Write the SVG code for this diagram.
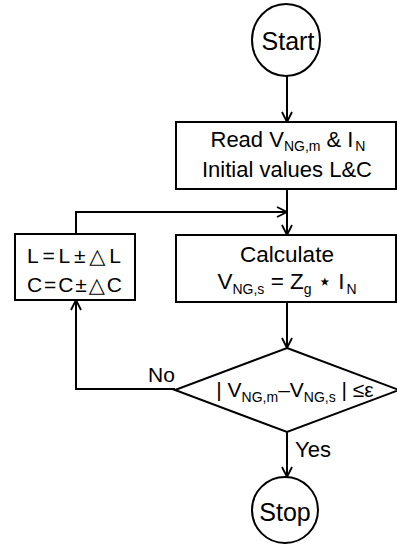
<svg xmlns="http://www.w3.org/2000/svg" width="397" height="544" viewBox="0 0 397 544">
  <style>
    .shape { fill: #ffffff; stroke: #000000; stroke-width: 2; }
    .wire { fill: none; stroke: #000000; stroke-width: 2; }
    .label { font-family: "Liberation Sans", Arial, "DejaVu Sans", sans-serif; fill: #000000; }
    .sub { font-size: 14px; }
  </style>
  <defs>
    <marker id="arrow" viewBox="0 0 12 12" refX="11" refY="6" markerWidth="12" markerHeight="12" markerUnits="userSpaceOnUse" orient="auto">
      <path d="M1,1 L11,6 L1,11" fill="none" stroke="#000000" stroke-width="1.8"/>
    </marker>
  </defs>

  <!-- connectors -->
  <g id="connectors">
    <line class="wire" x1="287" y1="76" x2="287" y2="122" marker-end="url(#arrow)"/>
    <line class="wire" x1="287" y1="189" x2="287" y2="235" marker-end="url(#arrow)"/>
    <polyline class="wire" points="76,234 76,212 287,212" marker-end="url(#arrow)"/>
    <line class="wire" x1="287" y1="302" x2="287" y2="348" marker-end="url(#arrow)"/>
    <polyline class="wire" points="175,389 76,389 76,300" marker-end="url(#arrow)"/>
    <line class="wire" x1="287" y1="432" x2="287" y2="477" marker-end="url(#arrow)"/>
    <text class="label" x="148" y="382" font-size="21">No</text>
    <text class="label" x="295" y="457" font-size="22">Yes</text>
  </g>

  <g id="start">
    <ellipse class="shape" cx="286" cy="40" rx="34" ry="36"/>
    <text class="label" x="288" y="50" font-size="25" text-anchor="middle">Start</text>
  </g>

  <g id="read">
    <rect class="shape" x="176" y="122" width="220" height="67"/>
    <text class="label" x="288" y="147" font-size="22" text-anchor="middle">Read V<tspan class="sub" dy="4">NG,m</tspan><tspan dx="6" dy="-4">&amp; I</tspan><tspan class="sub" dx="2" dy="4">N</tspan></text>
    <text class="label" x="287" y="177" font-size="22" text-anchor="middle">Initial values L&amp;C</text>
  </g>

  <g id="calculate">
    <rect class="shape" x="176" y="235" width="220" height="67"/>
    <text class="label" x="287" y="262" font-size="22.5" text-anchor="middle">Calculate</text>
    <text class="label" x="287" y="289" font-size="22.5" text-anchor="middle">V<tspan class="sub" font-size="15" dy="5">NG,s</tspan><tspan dy="-5"> = Z</tspan><tspan class="sub" font-size="15" dy="5">g</tspan><tspan dy="-5"> ⋆ I</tspan><tspan class="sub" font-size="15" dx="2" dy="5">N</tspan></text>
  </g>

  <g id="adjust">
    <rect class="shape" x="15" y="234" width="120" height="66"/>
    <text class="label" x="27" y="263" font-size="21" textLength="94" lengthAdjust="spacing">L=L±△L</text>
    <text class="label" x="27" y="292" font-size="21" textLength="95" lengthAdjust="spacing">C=C±△C</text>
  </g>

  <g id="check">
    <polygon class="shape" points="287,348 399,390 287,432 175,390"/>
    <text class="label" x="295" y="397" font-size="21" text-anchor="middle">| V<tspan class="sub" dy="5">NG,m</tspan><tspan dy="-5">–V</tspan><tspan class="sub" dy="5">NG,s</tspan><tspan dy="-5"> | ≤ε</tspan></text>
  </g>

  <g id="stop">
    <ellipse class="shape" cx="285" cy="510" rx="33" ry="33"/>
    <text class="label" x="285" y="521" font-size="25" text-anchor="middle">Stop</text>
  </g>
</svg>
